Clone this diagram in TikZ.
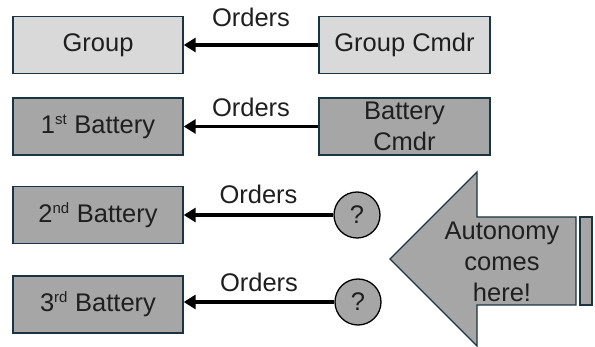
\documentclass[tikz,border=0pt]{standalone}
\usepackage{fontspec}
\setmainfont{Liberation Sans}
\usetikzlibrary{arrows.meta}
\definecolor{edge}{HTML}{1B3444}
\definecolor{lightfill}{HTML}{D9D9D9}
\definecolor{darkfill}{HTML}{A6A6A6}
\newcommand{\sx}[1]{\textsuperscript{\fontsize{15}{15}\selectfont #1}}
\begin{document}
\begin{tikzpicture}[x=1pt,y=-1pt,
  txt/.style={font=\fontsize{25.5}{31}\selectfont, text=black!88},
  box/.style={txt, draw=edge, line width=1.4pt, minimum width=170pt, minimum height=57pt, inner sep=0pt, align=center},
  lbox/.style={box, fill=lightfill},
  dbox/.style={box, fill=darkfill},
  qcirc/.style={txt, circle, draw=black, line width=1.3pt, fill=darkfill, minimum size=46pt, inner sep=0pt},
  order/.style={line width=3.5pt, -{Triangle[length=12pt,width=14pt]}},
  olabel/.style={txt, midway, anchor=base, inner sep=0pt}
]
\useasboundingbox (0,0) rectangle (595,347);
\node[lbox] (group) at (98,45) {Group};
\node[lbox, minimum width=171pt] (gcmdr) at (404.5,45) {Group Cmdr};
\node[dbox] (b1) at (98,126.5) {1\sx{st} Battery};
\node[dbox, minimum width=171pt] (bcmdr) at (404.5,126.5) {Battery\\Cmdr};
\node[dbox] (b2) at (98,215) {2\sx{nd} Battery};
\node[dbox] (b3) at (98,304.5) {3\sx{rd} Battery};
\node[qcirc] (q1) at (357,215) {?};
\node[qcirc] (q2) at (358,302) {?};

\draw[order] (gcmdr.west) -- (group.east) node[olabel, yshift=18.5pt] {Orders};
\draw[order] (bcmdr.west) -- (b1.east) node[olabel, yshift=10pt] {Orders};
\draw[order] (q1.west) -- (b2.east |- q1.west) node[olabel, yshift=11pt] {Orders};
\draw[order] (q2.west) -- (b3.east |- q2.west) node[olabel, yshift=10pt] {Orders};

% big autonomy arrow
\draw[edge, line width=1.4pt, fill=darkfill, line join=miter]
  (390,259) -- (477,172) -- (477,217) -- (576,217) -- (576,305) -- (477,305) -- (477,346) -- cycle;
\draw[edge, line width=1.4pt, fill=darkfill] (580,217) rectangle (592,305);
\node[txt, align=center, inner sep=0pt] (auto) at (502,262) {Autonomy\\comes\\here!};
\end{tikzpicture}
\end{document}
